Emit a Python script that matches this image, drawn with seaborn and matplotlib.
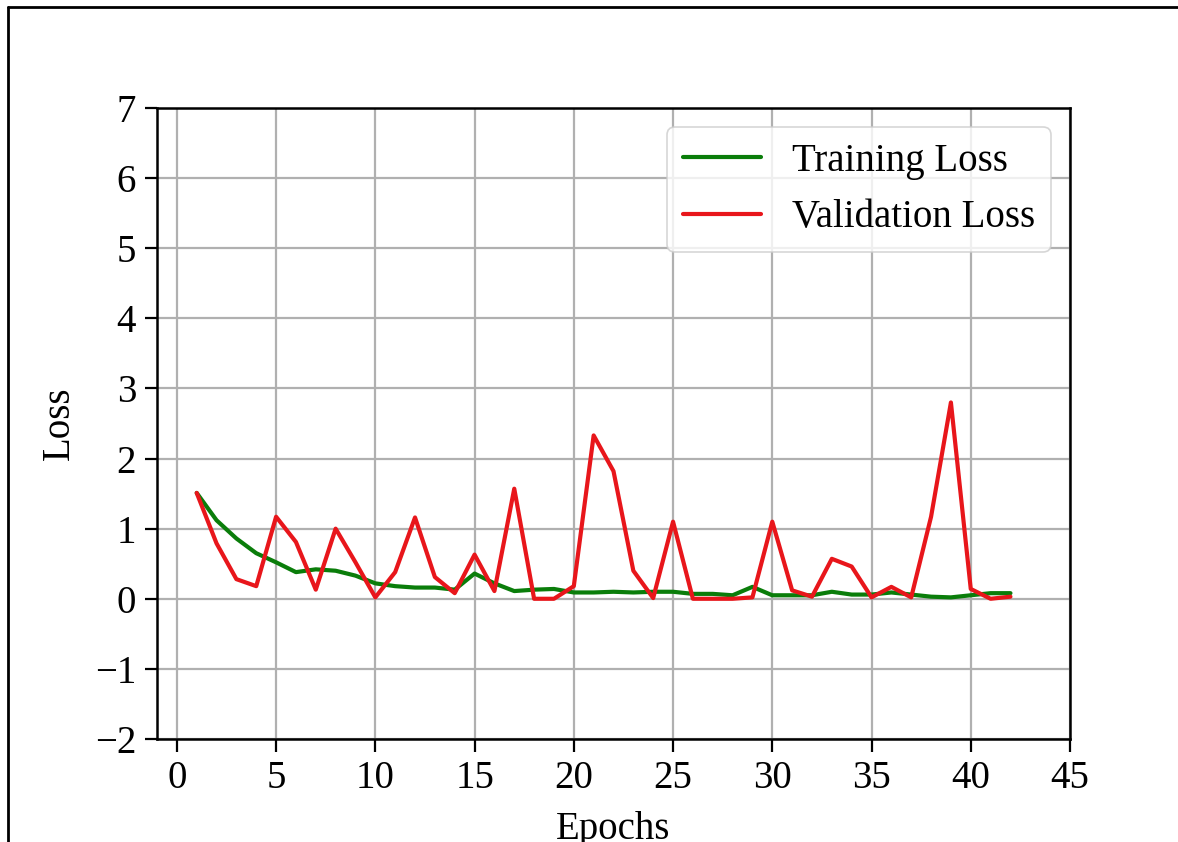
import numpy as np
import pandas as pd
import matplotlib
matplotlib.use("Agg")
import matplotlib.pyplot as plt
import seaborn as sns
from matplotlib.lines import Line2D

epochs = list(range(1, 43))
training_loss = [1.51, 1.12, 0.86, 0.65, 0.52, 0.38, 0.42, 0.40, 0.33, 0.22,
                 0.18, 0.16, 0.16, 0.13, 0.36, 0.22, 0.11, 0.13, 0.14, 0.09,
                 0.09, 0.10, 0.09, 0.10, 0.10, 0.07, 0.07, 0.05, 0.17, 0.05,
                 0.05, 0.05, 0.10, 0.06, 0.06, 0.09, 0.06, 0.03, 0.02, 0.05,
                 0.08, 0.08]
validation_loss = [1.51, 0.79, 0.28, 0.18, 1.17, 0.81, 0.13, 1.00, 0.52, 0.02,
                   0.38, 1.16, 0.31, 0.08, 0.63, 0.11, 1.57, 0.00, 0.00, 0.18,
                   2.33, 1.82, 0.40, 0.01, 1.10, 0.00, 0.00, 0.00, 0.02, 1.10,
                   0.12, 0.03, 0.57, 0.46, 0.02, 0.17, 0.02, 1.17, 2.80, 0.14,
                   0.00, 0.03]
series_names = ["Training Loss", "Validation Loss"]
x_ticks = [0, 5, 10, 15, 20, 25, 30, 35, 40, 45]
y_ticks = [-2, -1, 0, 1, 2, 3, 4, 5, 6, 7]

df = pd.DataFrame({
    "Epochs": epochs * 2,
    "Loss": training_loss + validation_loss,
    "Series": [series_names[0]] * len(epochs) + [series_names[1]] * len(epochs),
})

sns.set_theme(style="ticks")
plt.rcParams["font.family"] = ["Liberation Serif", "DejaVu Serif"]
plt.rcParams["axes.unicode_minus"] = True
plt.rcParams["text.color"] = "black"
plt.rcParams["axes.labelcolor"] = "black"

fig = plt.figure(figsize=(11.78, 8.42), dpi=100)
ax = fig.add_axes([157 / 1178, 1 - 739 / 842, (1070 - 157) / 1178, (739 - 108) / 842])

palette = {series_names[0]: "#0a7d0a", series_names[1]: "#e8161b"}
sns.lineplot(data=df, x="Epochs", y="Loss", hue="Series", palette=palette,
             linewidth=3.0, ax=ax, legend=False)

ax.set_xlim(-1, 45)
ax.set_ylim(-2, 7)
ax.set_xticks(x_ticks)
ax.set_yticks(y_ticks)
ax.grid(True, color="#b0b0b0", linewidth=1.6)
ax.set_axisbelow(True)
for s in ax.spines.values():
    s.set_color("black")
    s.set_linewidth(1.8)
ax.tick_params(axis="both", labelsize=28, length=9, width=1.6, color="black",
               labelcolor="black", pad=6)
ax.set_xlabel("Epochs", fontsize=28, color="black", labelpad=10)
ax.set_ylabel("Loss", fontsize=28, color="black", labelpad=12)

handles = [Line2D([0], [0], color=palette[n], linewidth=3.0) for n in series_names]
leg = ax.legend(handles, series_names, loc="upper right", fontsize=28,
                frameon=True, fancybox=True, framealpha=0.8, edgecolor="#cccccc",
                handlelength=2.0, borderaxespad=0.5)
leg.get_frame().set_linewidth(1.2)
for t in leg.get_texts():
    t.set_color("black")

# outer frame (left and top edges visible)
fig.add_artist(Line2D([8 / 1178, 8 / 1178], [0, 1 - 7 / 842], transform=fig.transFigure,
                      color="black", linewidth=2))
fig.add_artist(Line2D([8 / 1178, 1], [1 - 7 / 842, 1 - 7 / 842], transform=fig.transFigure,
                      color="black", linewidth=2))

fig.savefig("out.png", dpi=100)
